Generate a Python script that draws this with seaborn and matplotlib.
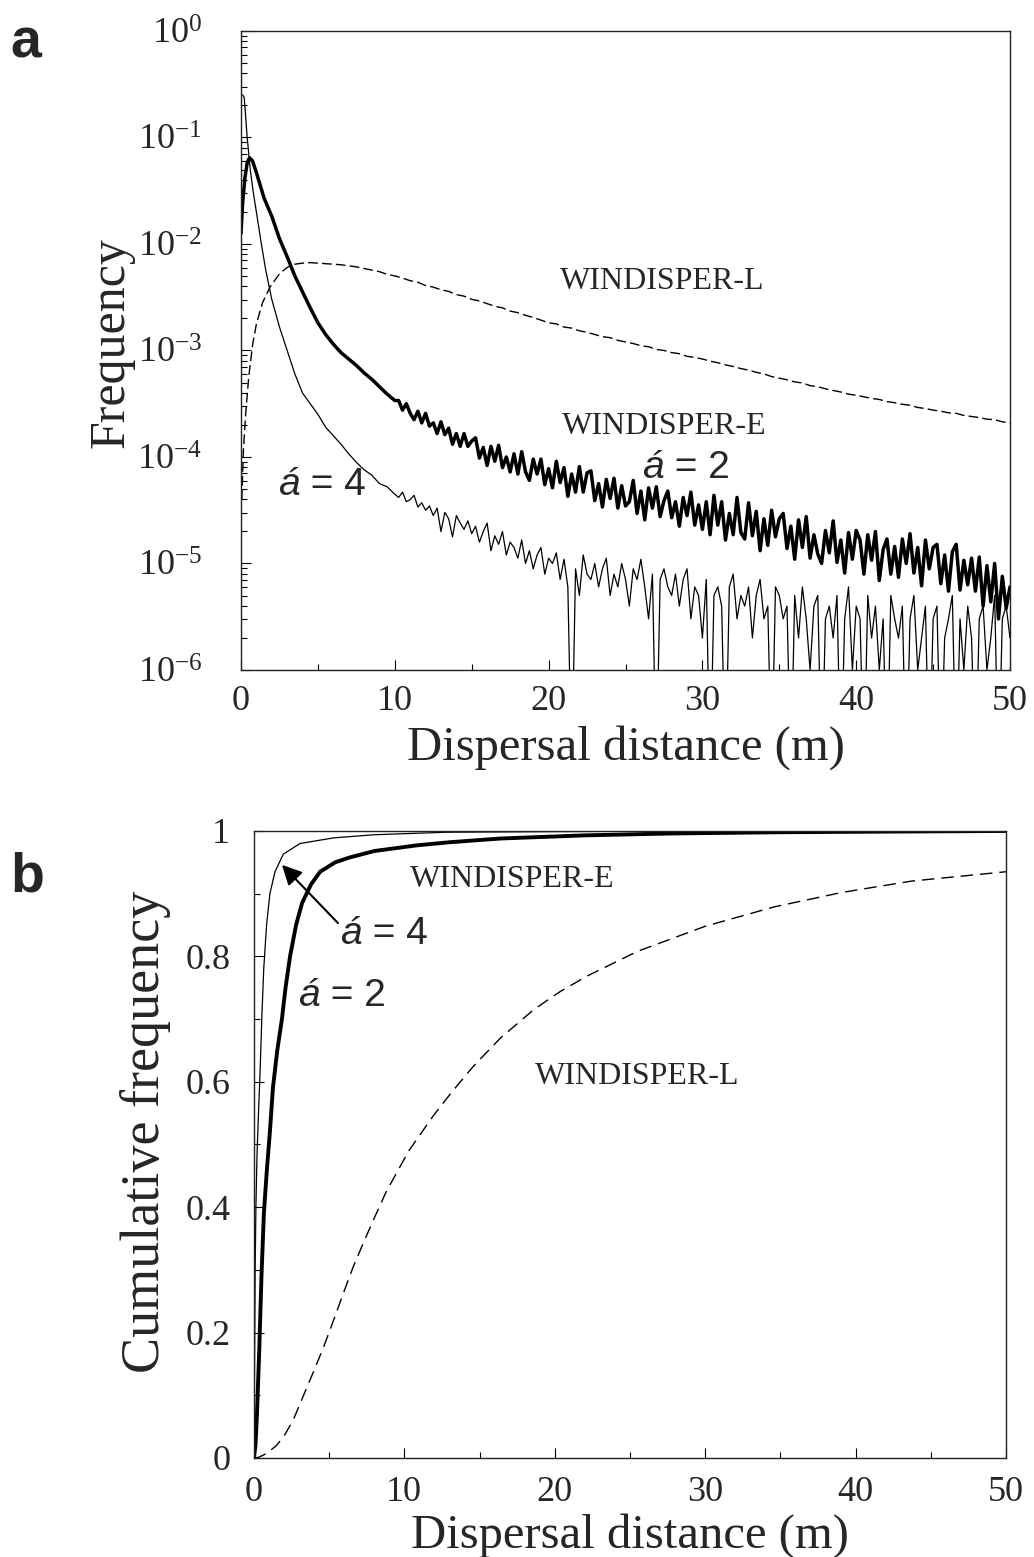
import numpy as np
import pandas as pd
import matplotlib
matplotlib.use("Agg")
import matplotlib.pyplot as plt
import seaborn as sns
from matplotlib.ticker import FixedLocator, MultipleLocator, LogLocator, NullFormatter, FixedFormatter

# ---------------- DATA ----------------
# Panel a: frequency (log10 values)
alpha4_head_x = [0.1, 0.2, 0.3, 0.4, 0.6, 0.8, 1.0, 1.3, 1.6, 2.0, 2.5, 3.0, 3.5, 4.0, 4.5, 5.0,
                 5.5, 6.0, 6.5, 7.0, 7.5, 8.0, 8.5, 9.0, 9.5, 10.0]
alpha4_head_log = [-0.60, -0.62, -0.80, -1.00, -1.30, -1.52, -1.70, -1.98, -2.24, -2.52, -2.78, -3.00,
                   -3.22, -3.40, -3.50, -3.60, -3.72, -3.80, -3.88, -3.97, -4.05, -4.12, -4.17, -4.25,
                   -4.28, -4.35]
alpha4_tail_log = [
    -4.38, -4.33, -4.42, -4.40, -4.36, -4.47, -4.43, -4.50, -4.46, -4.55,
    -4.48, -4.70, -4.52, -4.58, -4.75, -4.55, -4.62, -4.68, -4.60, -4.72,
    -4.65, -4.80, -4.70, -4.62, -4.88, -4.74, -4.82, -4.70, -4.92, -4.80,
    -4.85, -4.95, -4.78, -5.00, -4.88, -5.05, -4.92, -4.85, -5.10, -4.95,
    -5.00, -4.90, -5.15, -4.96, -5.22, -7.00, -5.05, -5.30, -4.92, -5.10,
    -5.15, -5.00, -5.22, -5.05, -4.95, -5.30, -5.10, -5.22, -5.00, -5.15,
    -5.40, -5.05, -5.15, -4.96, -5.22, -5.52, -5.10, -7.00, -5.15, -5.05,
    -5.22, -5.30, -5.10, -5.40, -5.15, -5.05, -5.52, -5.22, -5.30, -5.70,
    -5.15, -7.00, -5.30, -5.22, -5.40, -7.00, -5.22, -5.10, -5.52, -5.30,
    -5.40, -5.22, -5.70, -5.30, -5.15, -5.52, -5.40, -7.00, -5.22, -5.30,
    -5.52, -5.40, -7.00, -5.30, -5.70, -5.22, -5.52, -6.00, -5.40, -5.30,
    -7.00, -5.52, -5.40, -5.70, -5.30, -7.00, -5.52, -5.22, -6.00, -5.40,
    -5.52, -7.00, -5.30, -5.70, -5.40, -6.00, -5.52, -7.00, -5.30, -5.52,
    -5.70, -5.40, -7.00, -5.52, -5.30, -6.00, -5.70, -5.40, -7.00, -5.52,
    -5.40, -7.00, -5.70, -5.52, -5.30, -7.00, -5.52, -6.00, -5.40, -5.70,
    -7.00, -5.52, -5.40, -6.00, -5.70, -5.30, -7.00, -5.52, -5.40, -5.70,
]
alpha2_head_x = [0.0, 0.1, 0.25, 0.4, 0.55, 0.75, 1.0, 1.5, 2.0, 2.5, 3.0, 3.5, 4.0, 4.5, 5.0,
                 5.5, 6.0, 6.5, 7.0, 7.5, 8.0, 8.5, 9.0, 9.5, 10.0]
alpha2_head_log = [-1.90, -1.62, -1.38, -1.24, -1.19, -1.22, -1.33, -1.57, -1.74, -1.95, -2.12, -2.30,
                   -2.45, -2.60, -2.74, -2.85, -2.94, -3.02, -3.08, -3.14, -3.21, -3.27, -3.34, -3.41,
                   -3.47]
alpha2_tail_log = [
    -3.47, -3.56, -3.50, -3.59, -3.65, -3.57, -3.68, -3.59, -3.71, -3.68,
    -3.78, -3.67, -3.79, -3.73, -3.88, -3.78, -3.90, -3.78, -3.90, -3.85,
    -3.82, -4.01, -3.91, -4.08, -3.90, -4.04, -3.89, -4.10, -4.00, -4.14,
    -3.97, -4.16, -3.95, -4.14, -4.22, -4.02, -4.16, -4.02, -4.26, -4.11,
    -4.29, -4.04, -4.24, -4.10, -4.37, -4.16, -4.33, -4.09, -4.33, -4.15,
    -4.13, -4.41, -4.25, -4.47, -4.21, -4.39, -4.20, -4.48, -4.27, -4.46,
    -4.42, -4.22, -4.53, -4.32, -4.59, -4.29, -4.48, -4.28, -4.56, -4.41,
    -4.32, -4.57, -4.42, -4.65, -4.38, -4.55, -4.33, -4.64, -4.45, -4.68,
    -4.42, -4.73, -4.36, -4.64, -4.42, -4.78, -4.53, -4.73, -4.38, -4.71,
    -4.77, -4.43, -4.74, -4.51, -4.88, -4.58, -4.83, -4.50, -4.75, -4.58,
    -4.53, -4.86, -4.65, -4.96, -4.59, -4.85, -4.56, -4.95, -4.73, -4.91,
    -5.00, -4.69, -4.90, -4.60, -4.99, -4.78, -5.09, -4.71, -4.96, -4.69,
    -4.78, -5.10, -4.73, -4.97, -4.70, -5.16, -4.87, -4.77, -5.10, -4.84,
    -5.13, -4.77, -5.00, -4.72, -5.09, -4.85, -5.21, -4.78, -5.05, -4.85,
    -4.82, -5.19, -4.92, -5.26, -4.89, -4.82, -5.25, -4.97, -5.20, -4.95,
    -5.26, -4.94, -5.40, -5.02, -5.36, -5.00, -5.52, -5.12, -5.42, -5.22,
]
tail_x = np.round(np.arange(10.25, 50.001, 0.25), 2)

windL_head_x = [0.05, 0.15, 0.3, 0.5, 0.75, 1.0, 1.4, 1.9, 2.5, 3.0, 3.5, 4.0, 4.5, 5.0]
windL_head_log = [-4.40, -3.95, -3.60, -3.25, -2.95, -2.75, -2.55, -2.40, -2.28, -2.22, -2.19,
                  -2.18, -2.175, -2.18]
windL_tail_x = np.round(np.arange(5.5, 50.001, 0.5), 2)
windL_tail_log = [
    -2.185, -2.19, -2.195, -2.205, -2.215, -2.23, -2.245, -2.26, -2.285, -2.30,
    -2.32, -2.345, -2.36, -2.39, -2.405, -2.43, -2.445, -2.475, -2.49, -2.52,
    -2.535, -2.56, -2.585, -2.60, -2.63, -2.645, -2.67, -2.69, -2.715, -2.74,
    -2.75, -2.78, -2.79, -2.815, -2.83, -2.85, -2.87, -2.88, -2.905, -2.92,
    -2.935, -2.955, -2.965, -2.99, -3.00, -3.02, -3.03, -3.055, -3.065, -3.08,
    -3.10, -3.115, -3.135, -3.15, -3.17, -3.185, -3.205, -3.22, -3.245, -3.26,
    -3.275, -3.295, -3.305, -3.33, -3.34, -3.36, -3.375, -3.39, -3.41, -3.42,
    -3.435, -3.45, -3.46, -3.48, -3.49, -3.505, -3.515, -3.535, -3.545, -3.56,
    -3.57, -3.585, -3.59, -3.61, -3.62, -3.63, -3.645, -3.65, -3.67, -3.68,
]

# Panel b: cumulative frequency
cum4_x = [0, 0.04, 0.08, 0.13, 0.2, 0.3, 0.4, 0.52, 0.65, 0.84, 1.06, 1.4, 1.95, 3.06, 5.3, 8,
          12.8, 20, 30, 50]
cum4_y = [0, 0.15, 0.30, 0.40, 0.48, 0.55, 0.61, 0.70, 0.78, 0.85, 0.90, 0.935, 0.963, 0.98,
          0.989, 0.994, 0.998, 0.999, 1.0, 1.0]
cum2_x = [0, 0.1, 0.2, 0.35, 0.5, 0.66, 0.86, 1.06, 1.26, 1.55, 1.86, 2.1, 2.4, 2.8, 3.2, 3.8,
          4.4, 5.4, 6.4, 8, 10.8, 13, 16.4, 22, 27.7, 35, 42, 50]
cum2_y = [0, 0.02, 0.07, 0.17, 0.29, 0.39, 0.46, 0.52, 0.59, 0.65, 0.70, 0.75, 0.80, 0.85,
          0.885, 0.915, 0.935, 0.95, 0.958, 0.968, 0.977, 0.982, 0.988, 0.993, 0.996, 0.998,
          0.999, 1.0]
cumL_x = [0, 0.3, 0.66, 1.0, 1.5, 2.0, 2.6, 3.3, 4.0, 4.6, 5.3, 5.9, 6.6, 7.4, 8.1, 8.8, 10.3,
          11.9, 13.2, 14.6, 16.4, 18.6, 20.3, 22.1, 25.5, 30, 34.6, 39.1, 43.7, 50]
cumL_y = [0, 0.001, 0.005, 0.01, 0.02, 0.035, 0.06, 0.10, 0.14, 0.175, 0.22, 0.26, 0.305, 0.35,
          0.388, 0.425, 0.49, 0.545, 0.585, 0.625, 0.67, 0.715, 0.743, 0.768, 0.808, 0.848,
          0.879, 0.902, 0.92, 0.935]

xticks = [0, 10, 20, 30, 40, 50]
logticks = [1e0, 1e-1, 1e-2, 1e-3, 1e-4, 1e-5, 1e-6]
logtick_labels = [r"$\mathregular{10^{0}}$", r"$\mathregular{10^{-1}}$", r"$\mathregular{10^{-2}}$",
                  r"$\mathregular{10^{-3}}$", r"$\mathregular{10^{-4}}$", r"$\mathregular{10^{-5}}$",
                  r"$\mathregular{10^{-6}}$"]
cumticks = [0, 0.2, 0.4, 0.6, 0.8, 1.0]
cumtick_labels = ["0", "0.2", "0.4", "0.6", "0.8", "1"]

# ---------------- STYLE ----------------
sns.set_theme(style="ticks")
plt.rcParams["font.family"] = ["Liberation Serif", "DejaVu Serif"]
plt.rcParams["mathtext.fontset"] = "custom"
plt.rcParams["mathtext.rm"] = "Liberation Serif"
plt.rcParams["axes.unicode_minus"] = True

SANS = ["Liberation Sans", "DejaVu Sans"]

fig = plt.figure(figsize=(10.34, 15.57), dpi=100)
fig.patch.set_facecolor("white")

ax_a = fig.add_axes([0.2331, 0.5697, 0.7437, 0.4104])
ax_b = fig.add_axes([0.2456, 0.0636, 0.7273, 0.4027])

# ---------------- PANEL A ----------------
dfL = pd.DataFrame({"x": list(windL_head_x) + list(windL_tail_x),
                    "f": 10.0 ** np.array(list(windL_head_log) + list(windL_tail_log))})
df4 = pd.DataFrame({"x": list(alpha4_head_x) + list(tail_x),
                    "f": 10.0 ** np.array(list(alpha4_head_log) + list(alpha4_tail_log))})
df2 = pd.DataFrame({"x": list(alpha2_head_x) + list(tail_x),
                    "f": 10.0 ** np.array(list(alpha2_head_log) + list(alpha2_tail_log))})

sns.lineplot(data=dfL, x="x", y="f", ax=ax_a, color="black", lw=1.0,
             linestyle=(0, (7, 3)), estimator=None, sort=False)
sns.lineplot(data=df4, x="x", y="f", ax=ax_a, color="black", lw=0.9,
             estimator=None, sort=False)
sns.lineplot(data=df2, x="x", y="f", ax=ax_a, color="black", lw=2.5,
             estimator=None, sort=False)

ax_a.set_yscale("log")
ax_a.set_xlim(0, 50)
ax_a.set_ylim(1e-6, 1)
ax_a.yaxis.set_major_locator(FixedLocator(logticks))
ax_a.yaxis.set_major_formatter(FixedFormatter(logtick_labels))
ax_a.yaxis.set_minor_locator(LogLocator(base=10, subs=np.arange(2, 10), numticks=20))
ax_a.yaxis.set_minor_formatter(NullFormatter())
ax_a.xaxis.set_major_locator(FixedLocator(xticks))
ax_a.xaxis.set_minor_locator(MultipleLocator(5))
ax_a.set_xlabel("Dispersal distance (m)", fontsize=35, labelpad=5)
ax_a.set_ylabel("Frequency", fontsize=36)
ax_a.yaxis.set_label_coords(-0.138, 0.513)

ax_a.text(20.74, 4.4e-3, "WINDISPER-L", fontsize=23, ha="left", va="center")
ax_a.text(20.87, 1.95e-4, "WINDISPER-E", fontsize=23, ha="left", va="center")


def alpha_label(ax, x, y, num):
    t1 = ax.text(x, y, "á", fontsize=28, fontstyle="italic", family=SANS,
                 ha="left", va="center")
    ax.annotate(" = %d" % num, xy=(1, 0), xycoords=t1, fontsize=28, family=SANS,
                ha="left", va="bottom")
    return t1


alpha_label(ax_a, 26.07, 7.9e-5, 2)
alpha_label(ax_a, 2.4, 5.4e-5, 4)

# ---------------- PANEL B ----------------
dcL = pd.DataFrame({"x": cumL_x, "c": cumL_y})
dc4 = pd.DataFrame({"x": cum4_x, "c": cum4_y})
dc2 = pd.DataFrame({"x": cum2_x, "c": cum2_y})
sns.lineplot(data=dcL, x="x", y="c", ax=ax_b, color="black", lw=1.0,
             linestyle=(0, (9, 5)), estimator=None, sort=False)
sns.lineplot(data=dc4, x="x", y="c", ax=ax_b, color="black", lw=0.9,
             estimator=None, sort=False)
sns.lineplot(data=dc2, x="x", y="c", ax=ax_b, color="black", lw=2.8,
             estimator=None, sort=False)

ax_b.set_xlim(0, 50)
ax_b.set_ylim(0, 1)
ax_b.yaxis.set_major_locator(FixedLocator(cumticks))
ax_b.yaxis.set_major_formatter(FixedFormatter(cumtick_labels))
ax_b.yaxis.set_minor_locator(MultipleLocator(0.1))
ax_b.xaxis.set_major_locator(FixedLocator(xticks))
ax_b.xaxis.set_minor_locator(MultipleLocator(5))
ax_b.set_xlabel("Dispersal distance (m)", fontsize=35, labelpad=3)
ax_b.set_ylabel("Cumulative frequency", fontsize=39)
ax_b.yaxis.set_label_coords(-0.11, 0.52)

ax_b.text(10.37, 0.922, "WINDISPER-E", fontsize=23, ha="left", va="center")
ax_b.text(18.68, 0.608, "WINDISPER-L", fontsize=23, ha="left", va="center")
alpha_label(ax_b, 5.72, 0.836, 4)
alpha_label(ax_b, 2.93, 0.737, 2)
ax_b.annotate("", xy=(1.86, 0.946), xytext=(5.59, 0.853),
              arrowprops=dict(arrowstyle="-|>", color="black", lw=1.5,
                              mutation_scale=30, shrinkA=0, shrinkB=0))

# ---------------- COMMON AXIS STYLE ----------------
for ax, ypad, xpad in ((ax_a, 28, 11), (ax_b, 17, 13)):
    ax.set_facecolor("white")
    for s in ax.spines.values():
        s.set_visible(True)
        s.set_color("#222222")
        s.set_linewidth(1.0)
    ax.tick_params(which="both", direction="in", top=False, right=False, color="black",
                   width=0.8)
    ax.tick_params(which="major", length=7.2)
    ax.tick_params(which="minor", length=4.5)
    ax.tick_params(axis="x", which="major", labelsize=26, pad=xpad)
    ax.tick_params(axis="y", which="major", labelsize=26, pad=ypad)
    ax.grid(False)

fig.text(0.0097, 1 - 57 / 1557, "a", fontsize=40, fontweight="bold", family=SANS,
         ha="left", va="baseline")
fig.text(0.0097, 1 - 892 / 1557, "b", fontsize=40, fontweight="bold", family=SANS,
         ha="left", va="baseline")

fig.savefig("out.png", dpi=100, facecolor="white")
